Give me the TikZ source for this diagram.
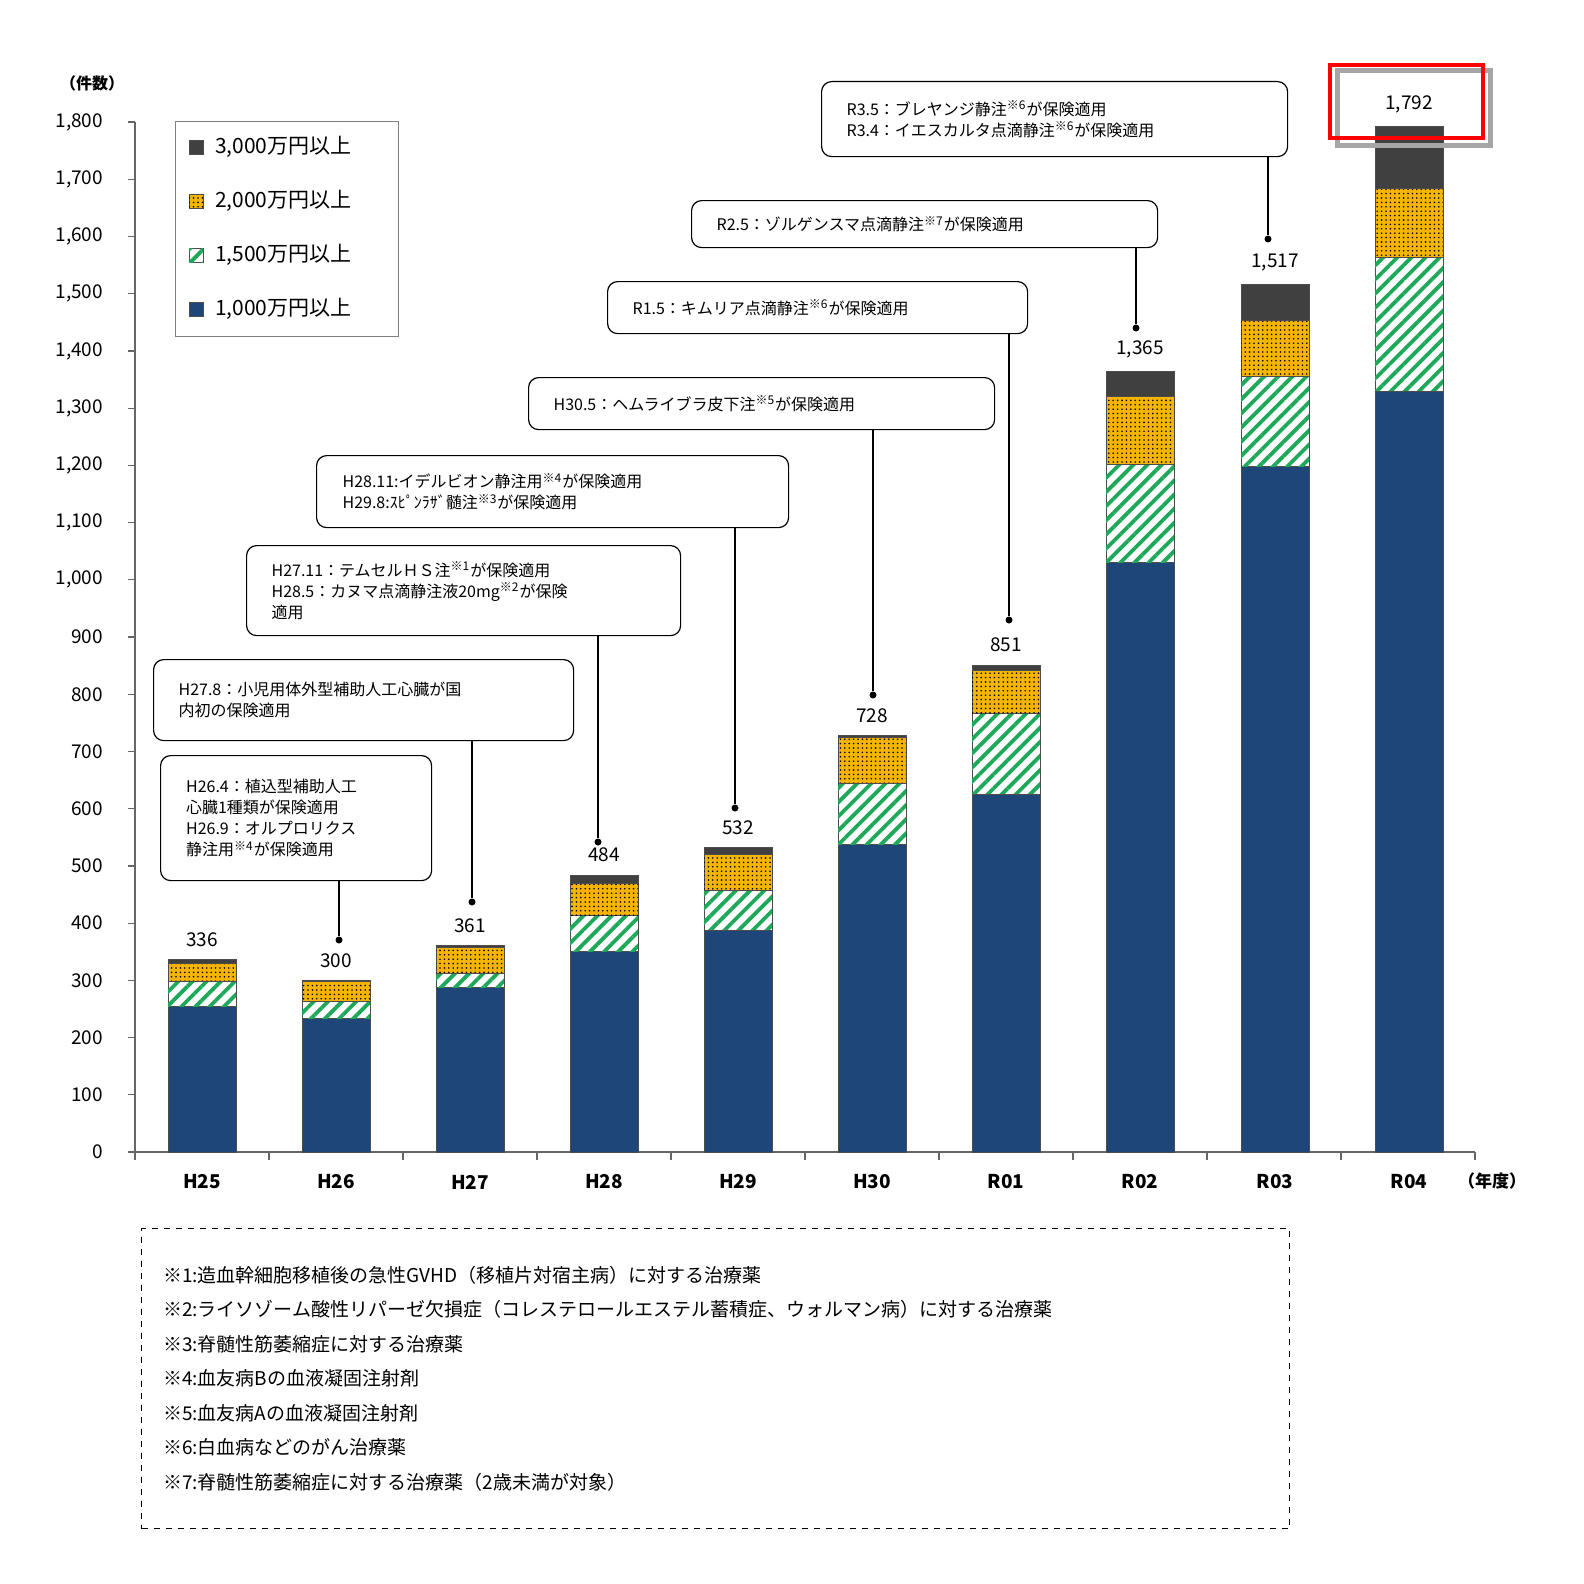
\documentclass[tikz,border=0pt]{standalone}
\usepackage{fontspec}
\setmainfont{Noto Sans CJK JP}
\usetikzlibrary{patterns.meta}
\definecolor{cblue}{HTML}{1F4678}
\definecolor{cgreen}{HTML}{1EA85A}
\definecolor{corange}{HTML}{F5B400}
\definecolor{cdark}{HTML}{404040}
\begin{document}
\begin{tikzpicture}[x=0.5pt,y=-0.5pt,
  callout/.style={draw,rounded corners=5pt,line width=0.6pt,anchor=north west,align=left,inner sep=0pt,font=\fontsize{8}{10.5}\selectfont},
  lbl/.style={font=\fontsize{9.5}{11}\selectfont},
  dotm/.style={circle,fill,inner sep=0pt,minimum size=3.5pt},
  bluef/.style={fill=cblue,draw=black!70,line width=0.3pt},
  greenf/.style={fill=white,draw=black!70,line width=0.3pt,postaction={pattern={Lines[angle=45,distance=5pt,line width=1.9pt]},pattern color=cgreen}},
  orangef/.style={fill=corange,draw=black!70,line width=0.3pt,postaction={pattern={Dots[radius=0.45pt,distance=2.2pt]},pattern color=black}},
  darkf/.style={fill=cdark,draw=black!70,line width=0.3pt}]
\useasboundingbox (0,0) rectangle (1584,1584);
% axes
\draw[line width=0.6pt,black!60] (135,122) -- (135,1152) -- (1475,1152);
\foreach \v in {0,100,...,1800}{
  \pgfmathsetmacro\yy{1152-\v*0.5722}
  \draw[black!60,line width=0.6pt] (128,\yy) -- (135,\yy);
  \pgfmathtruncatemacro\th{\v/1000}\pgfmathtruncatemacro\rest{\v-1000*\th}
  \ifnum\th>0 \node[anchor=east,lbl] at (110,\yy) {\th,\ifnum\rest<100 0\fi\ifnum\rest=0 0\fi\rest};
  \else \node[anchor=east,lbl] at (110,\yy) {\v};\fi
}
\foreach \i in {0,...,10}{\draw[black!60,line width=0.6pt] (135+\i*134,1152) -- (135+\i*134,1160);}
\node[font=\fontsize{8}{10}\selectfont\bfseries] (u1) at (92,83) {（件数）};
\node[font=\fontsize{8.5}{10}\selectfont\bfseries] (u2) at (1492,1181) {（年度）};
% bars
\foreach \c/\a/\b/\d/\t/\lab/\n in {
 202/255/299/329/336/336/H25, 336/234/264/299/300/300/H26, 470/288/313/358/361/361/H27,
 604/350/414/469/484/484/H28, 738/388/458/521/532/532/H29, 872/537/645/724/728/728/H30,
 1006/626/767/841/851/851/R01, 1140/1030/1201/1320/1365/{1,365}/R02,
 1275/1198/1355/1453/1517/{1,517}/R03, 1409/1330/1563/1685/1792/{1,792}/R04}{
  \pgfmathsetmacro\ya{1152-\a*0.5722}\pgfmathsetmacro\yb{1152-\b*0.5722}
  \pgfmathsetmacro\yd{1152-\d*0.5722}\pgfmathsetmacro\yt{1152-\t*0.5722}
  \draw[bluef] (\c-34,1152) rectangle (\c+34,\ya);
  \draw[greenf] (\c-34,\ya) rectangle (\c+34,\yb);
  \draw[orangef] (\c-34,\yb) rectangle (\c+34,\yd);
  \draw[darkf] (\c-34,\yd) rectangle (\c+34,\yt);
  \node[lbl,anchor=south] (v\n) at (\c,\yt-6) {\lab};
  \node[font=\fontsize{9.5}{11}\selectfont\bfseries] (x\n) at (\c,1182) {\n};
}
% red highlight
\draw[black!35,line width=2.5pt] (1337,71) rectangle (1490,145);
\draw[red,line width=2.2pt] (1330,65) rectangle (1483,138);
% legend
\node[draw=black!50,line width=0.6pt,anchor=north west,minimum width=111.5pt,minimum height=107.5pt,inner sep=0pt] (leg) at (175,121) {};
\foreach \y/\s/\t in {147/darkf/{3,000}, 201/orangef/{2,000}, 255/greenf/{1,500}, 309/bluef/{1,000}}{
  \draw[\s] (189,\y-7) rectangle (203,\y+7);
  \node[anchor=west,font=\fontsize{10.5}{12}\selectfont] at (208,\y) {\t 万円以上};
}
% callouts
\node[callout,minimum width=135.5pt,minimum height=62.5pt,text width=130pt] (c1) at (160,755) {\hspace*{10pt}H26.4：植込型補助人工\\\hspace*{10pt}心臓1種類が保険適用\\\hspace*{10pt}H26.9：オルプロリクス\\\hspace*{10pt}静注用\textsuperscript{※4}が保険適用};
\node[callout,minimum width=210pt,minimum height=40.5pt,text width=205pt] (c2) at (153,659) {\hspace*{10pt}H27.8：小児用体外型補助人工心臓が国\\\hspace*{10pt}内初の保険適用};
\node[callout,minimum width=217pt,minimum height=45pt,text width=212pt] (c3) at (246,545) {\hspace*{10pt}H27.11：テムセルＨＳ注\textsuperscript{※1}が保険適用\\\hspace*{10pt}H28.5：カヌマ点滴静注液20mg\textsuperscript{※2}が保険\\\hspace*{10pt}適用};
\node[callout,minimum width=236pt,minimum height=36pt,text width=230pt] (c4) at (316,455) {\hspace*{10pt}H28.11:イデルビオン静注用\textsuperscript{※4}が保険適用\\\hspace*{10pt}H29.8:ｽﾋﾟﾝﾗｻﾞ髄注\textsuperscript{※3}が保険適用};
\node[callout,minimum width=233pt,minimum height=26pt,text width=228pt] (c5) at (528,377) {\hspace*{10pt}H30.5：ヘムライブラ皮下注\textsuperscript{※5}が保険適用};
\node[callout,minimum width=210pt,minimum height=26pt,text width=205pt] (c6) at (607,281) {\hspace*{10pt}R1.5：キムリア点滴静注\textsuperscript{※6}が保険適用};
\node[callout,minimum width=233pt,minimum height=23.5pt,text width=228pt] (c7) at (691,200) {\hspace*{10pt}R2.5：ゾルゲンスマ点滴静注\textsuperscript{※7}が保険適用};
\node[callout,minimum width=233pt,minimum height=37.5pt,text width=228pt] (c8) at (821,81) {\hspace*{10pt}R3.5：ブレヤンジ静注\textsuperscript{※6}が保険適用\\\hspace*{10pt}R3.4：イエスカルタ点滴静注\textsuperscript{※6}が保険適用};
\foreach \k/\x/\y in {1/339/940, 2/472/902, 3/598/842, 4/735/808, 5/873/695, 6/1009/620, 7/1136/328, 8/1268/239}{
  \node[dotm] (d\k) at (\x,\y) {};
  \draw[line width=0.6pt] (d\k |- c\k.south) -- (d\k);
}
% footnotes
\node[draw,dashed,line width=0.6pt,anchor=north west,minimum width=574pt,minimum height=150pt,inner sep=0pt] (fn) at (141,1228) {};
\foreach \i/\t in {0/{※1:造血幹細胞移植後の急性GVHD（移植片対宿主病）に対する治療薬},
 1/{※2:ライソゾーム酸性リパーゼ欠損症（コレステロールエステル蓄積症、ウォルマン病）に対する治療薬},
 2/{※3:脊髄性筋萎縮症に対する治療薬}, 3/{※4:血友病Bの血液凝固注射剤},
 4/{※5:血友病Aの血液凝固注射剤}, 5/{※6:白血病などのがん治療薬},
 6/{※7:脊髄性筋萎縮症に対する治療薬（2歳未満が対象）}}{
  \node[anchor=west,font=\fontsize{9.5}{11}\selectfont] at (156,1275+\i*34.5) {\t};
}
\end{tikzpicture}
\end{document}
